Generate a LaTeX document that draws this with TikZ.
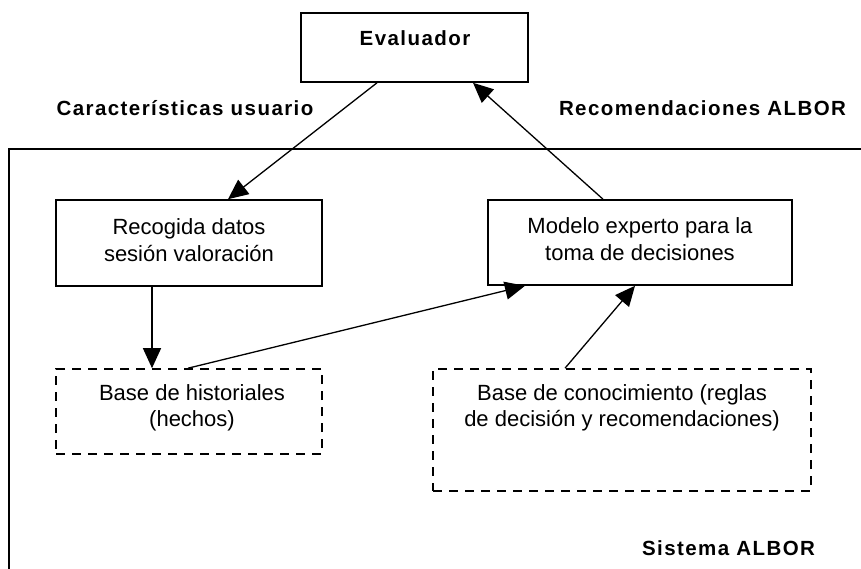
\documentclass[tikz,border=0pt]{standalone}
\usepackage{fontspec}
\setmainfont{Liberation Sans}
\newfontfamily\lblfont[LetterSpace=7]{Liberation Sans}
\usetikzlibrary{arrows.meta}
\begin{document}
\begin{tikzpicture}[x=1pt,y=-1pt,
  box/.style={draw, line width=1.6pt, rectangle, inner sep=0pt},
  dbox/.style={box, dash pattern=on 9pt off 7pt},
  con/.style={line width=1.3pt, -{Triangle[length=20pt,width=18pt]}},
  lbl/.style={font=\fontsize{20.5}{23}\lblfont\bfseries, inner sep=0pt},
  txt/.style={font=\fontsize{22}{26.5}\selectfont, align=center, inner sep=0pt}]
\useasboundingbox (0,0) rectangle (861,569);
% outer frame (system boundary)
\coordinate (frTR) at (870,149);
\coordinate (frTL) at (9,149);
\coordinate (frBL) at (9,575);
\draw[line width=1.5pt] (frTR) -- (frTL) -- (frBL);
% boxes
\node[box, minimum width=227pt, minimum height=69pt] (eval) at (414.5,47.5) {};
\node[box, minimum width=266pt, minimum height=86pt] (rec) at (189,243) {};
\node[box, minimum width=304pt, minimum height=85pt] (mod) at (640,242.5) {};
\node[dbox, minimum width=266pt, minimum height=85pt] (bh) at (189,411.5) {};
\node[dbox, minimum width=378pt, minimum height=122pt] (bc) at (622,430) {};
% texts
\node[lbl] (evalt) at (415,38) {Evaluador};
\node[lbl] (carac) at (185,108) {Características usuario};
\node[lbl] (recom) at (702.5,108) {Recomendaciones ALBOR};
\node[lbl] (sist) at (728.5,548) {Sistema ALBOR};
\node[txt] (rect) at (189,240) {Recogida datos\\sesión valoración};
\node[txt] (modt) at (640,239) {Modelo experto para la\\toma de decisiones};
\node[txt] (bht) at (192,408) {Base de historiales\\(hechos)};
\node[txt] (bct) at (622,408) {Base de conocimiento (reglas\\de decisión y recomendaciones)};
% connectors
\draw[con] ([xshift=-37.5pt]eval.south) -- ([xshift=39pt]rec.north);
\draw[con] ([xshift=-37pt]mod.north) -- ([xshift=58.5pt]eval.south);
\draw[con] ([xshift=-37pt]rec.south) -- ([xshift=-37pt]bh.north);
\draw[con] ([xshift=-1pt]bh.north) -- ([xshift=-115pt]mod.south);
\draw[con] ([xshift=-57pt]bc.north) -- ([xshift=-5pt]mod.south);
\end{tikzpicture}
\end{document}
